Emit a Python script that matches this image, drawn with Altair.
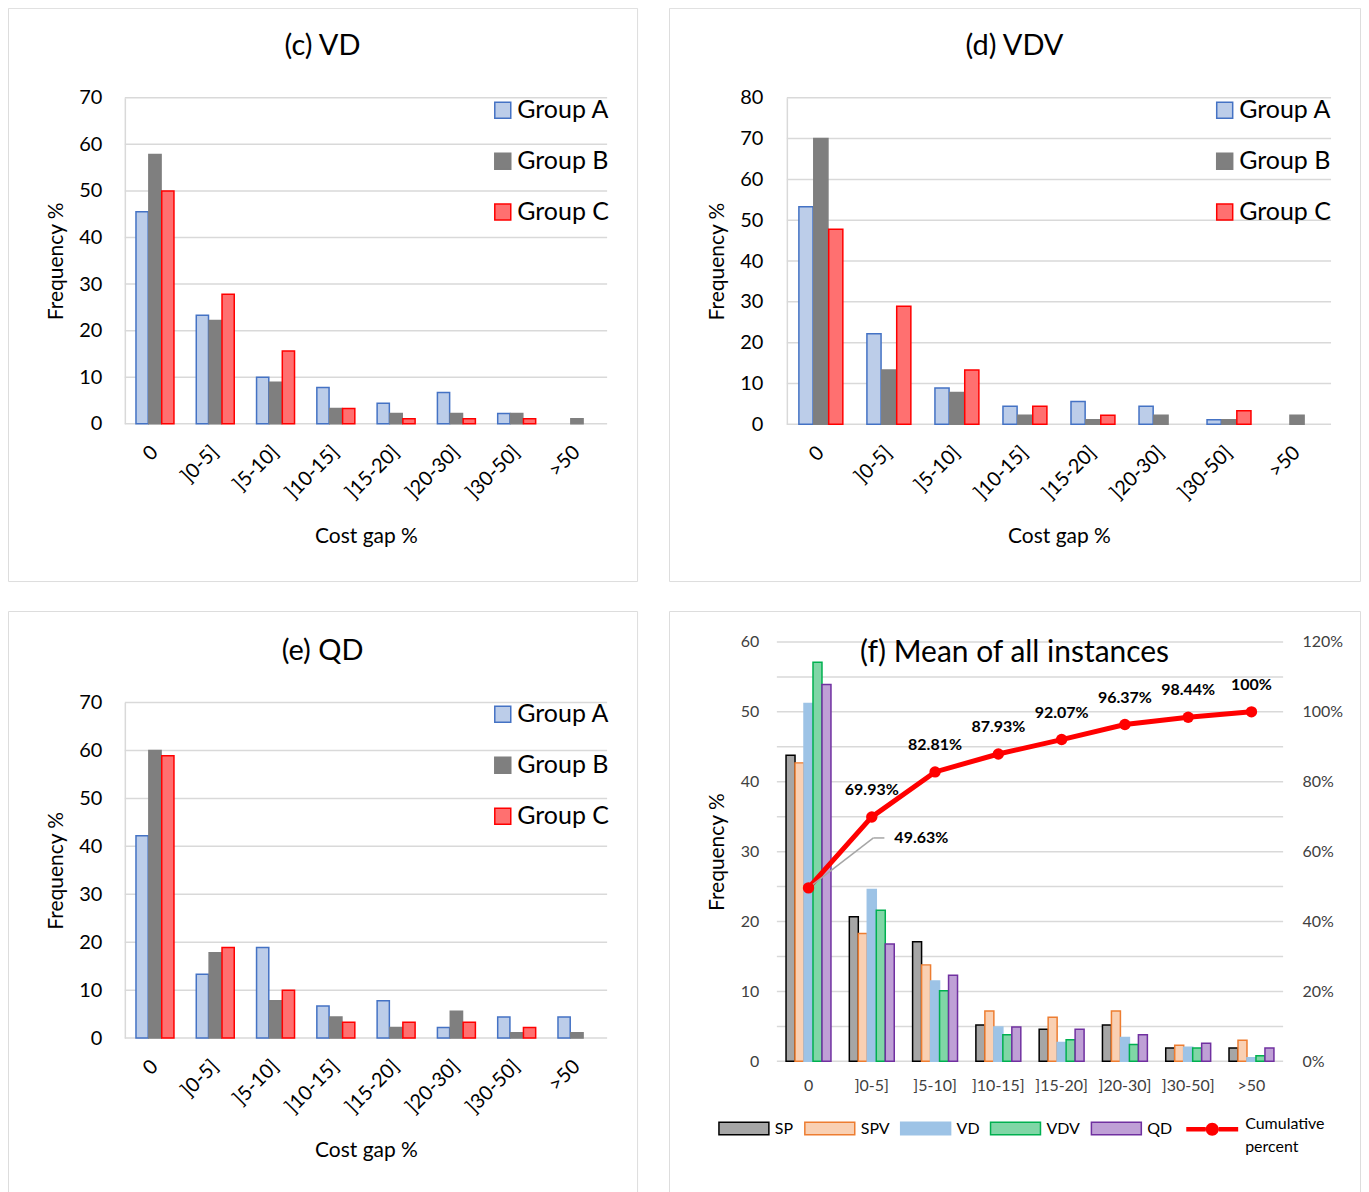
import altair as alt
import pandas as pd

FONT = "Lato"

categories = ["0", "]0-5]", "]5-10]", "]10-15]", "]15-20]", "]20-30]", "]30-50]", ">50"]
groups = ["Group A", "Group B", "Group C"]

# (c) VD
vd_a = [45.5, 23.3, 10.0, 7.8, 4.4, 6.7, 2.2, 0.0]
vd_b = [57.8, 22.2, 8.9, 3.3, 2.2, 2.2, 2.2, 1.1]
vd_c = [50.0, 27.8, 15.6, 3.3, 1.1, 1.1, 1.1, 0.0]
# (d) VDV
vdv_a = [53.3, 22.2, 8.9, 4.4, 5.6, 4.4, 1.1, 0.0]
vdv_b = [70.0, 13.3, 7.8, 2.2, 1.1, 2.2, 1.1, 2.2]
vdv_c = [47.8, 28.9, 13.3, 4.4, 2.2, 0.0, 3.3, 0.0]
# (e) QD
qd_a = [42.2, 13.3, 18.9, 6.7, 7.8, 2.2, 4.4, 4.4]
qd_b = [60.0, 17.8, 7.8, 4.4, 2.2, 5.6, 1.1, 1.1]
qd_c = [58.9, 18.9, 10.0, 3.3, 3.3, 3.3, 2.2, 0.0]
# (f) mean of all instances
methods = ["SP", "SPV", "VD", "VDV", "QD"]
mean_sp = [43.8, 20.7, 17.1, 5.2, 4.6, 5.2, 1.9, 1.9]
mean_spv = [42.7, 18.3, 13.8, 7.2, 6.3, 7.2, 2.3, 3.0]
mean_vd = [51.2, 24.6, 11.5, 4.9, 2.7, 3.4, 2.0, 0.5]
mean_vdv = [57.1, 21.6, 10.1, 3.8, 3.1, 2.4, 1.9, 0.8]
mean_qd = [53.9, 16.8, 12.3, 4.9, 4.6, 3.8, 2.6, 1.9]
cumulative = [49.63, 69.93, 82.81, 87.93, 92.07, 96.37, 98.44, 100.0]

group_fills = ["#bccde9", "#7f7f7f", "#ff7070"]
group_strokes = ["#4472c4", "#7f7f7f", "#ff0000"]
method_fills = ["#a6a6a6", "#f9d0b3", "#9dc3e6", "#80d6a6", "#bfa0d6"]
method_strokes = ["#000000", "#ed7d31", "#9dc3e6", "#00b050", "#7030a0"]

GRID = "#d9d9d9"
TITLE_SIZE = 29


def group_panel(title, a_vals, b_vals, c_vals, ymax, W, H, px0, px1, py_top, py0,
                pad_in, title_off, xtitle_y, ytitle_x, ylab_right, legend_x, legend_y):
    rows = []
    for g, vals in zip(groups, [a_vals, b_vals, c_vals]):
        for cat, v in zip(categories, vals):
            rows.append({"cat": cat, "group": g, "value": v})
    df = pd.DataFrame(rows)
    ticks = pd.DataFrame({"v": list(range(0, ymax + 1, 10))})
    xscale = alt.Scale(domain=categories, range=[px0, px1],
                       paddingInner=pad_in, paddingOuter=pad_in / 2)
    yscale = alt.Scale(domain=[0, ymax], range=[py0, py_top], nice=False, zero=True)
    yaxis = alt.Axis(orient="left", offset=-px0, values=list(range(0, ymax + 1, 10)),
                     grid=False, ticks=False, domain=True, domainColor=GRID,
                     domainWidth=1.5, labelFont=FONT, labelFontSize=20,
                     labelColor="black", labelPadding=px0 - ylab_right,
                     title="Frequency %", titleFont=FONT, titleFontSize=21,
                     titleFontWeight="normal", titleColor="black",
                     titleAngle=270, titleBaseline="middle", titleAlign="center",
                     titleX=ytitle_x - px0, titleY=(py0 + py_top) / 2)

    grid = alt.Chart(ticks).mark_rule(color=GRID, strokeWidth=1.5).encode(
        y=alt.Y("v:Q", scale=yscale, axis=yaxis),
        x=alt.value(px0), x2=alt.value(px1),
    )
    leg = dict(orient="none", legendX=legend_x, legendY=legend_y, title=None,
               direction="vertical", symbolType="square", symbolSize=256,
               symbolStrokeWidth=1.5, labelFont=FONT, labelFontSize=25,
               labelColor="black", labelOffset=2, rowPadding=25, padding=0,
               labelLimit=0)
    bars = alt.Chart(df).transform_filter(alt.datum.value > 0).mark_bar(strokeWidth=1.5).encode(
        x=alt.X("cat:N", sort=categories, scale=xscale,
                axis=alt.Axis(orient="bottom", offset=py0 - H, domain=False,
                              ticks=False, grid=False, labelAngle=315,
                              labelAlign="right", labelBaseline="middle",
                              labelPadding=25, labelFont=FONT, labelFontSize=20,
                              labelColor="black", title="Cost gap %",
                              titleFont=FONT, titleFontSize=21,
                              titleFontWeight="normal", titleColor="black",
                              titleX=(px0 + px1) / 2, titleY=xtitle_y - py0,
                              titleAlign="center", titleBaseline="middle")),
        xOffset=alt.XOffset("group:N", sort=groups,
                            scale=alt.Scale(domain=groups, paddingInner=0.05)),
        y=alt.Y("value:Q", scale=yscale, axis=yaxis),
        fill=alt.Fill("group:N", scale=alt.Scale(domain=groups, range=group_fills),
                      legend=alt.Legend(**leg)),
        stroke=alt.Stroke("group:N", scale=alt.Scale(domain=groups, range=group_strokes),
                          legend=alt.Legend(**leg)),
    )
    return alt.layer(grid, bars).properties(
        width=W, height=H,
        title=alt.TitleParams(title, font=FONT, fontSize=TITLE_SIZE, fontWeight="normal",
                              color="black", anchor="middle", baseline="middle",
                              offset=title_off),
    )


W1, W2 = 630, 692
H1, H2 = 574, 600

panel_c = group_panel("(c) VD", vd_a, vd_b, vd_c, 70, W1, H1, 117, 600, 90, 416.5,
                      0.37, -67, 529, 49, 94, 483, 90)
panel_d = group_panel("(d) VDV", vdv_a, vdv_b, vdv_c, 80, W2, H1, 118, 663, 90, 417,
                      0.354, -67, 529, 49, 94, 544, 90)
panel_e = group_panel("(e) QD", qd_a, qd_b, qd_c, 70, W1, H2, 117, 600, 91.7, 427.7,
                      0.37, -69, 540, 49, 94, 483, 91)

# ---- panel (f)
fx0, fx1, fy_top, fy0 = 108, 615, 31, 451
rows = []
for m, vals in zip(methods, [mean_sp, mean_spv, mean_vd, mean_vdv, mean_qd]):
    for cat, v in zip(categories, vals):
        rows.append({"cat": cat, "method": m, "value": v})
fdf = pd.DataFrame(rows)
cdf = pd.DataFrame({"cat": categories, "cum": cumulative,
                    "label": [("%g" % v) + "%" for v in cumulative]})
fticks = pd.DataFrame({"v": list(range(0, 61, 5))})

fxscale = alt.Scale(domain=categories, range=[fx0, fx1], paddingInner=0.29, paddingOuter=0.145)
fyscale = alt.Scale(domain=[0, 60], range=[fy0, fy_top], nice=False, zero=True)
fy2scale = alt.Scale(domain=[0, 120], range=[fy0, fy_top], nice=False, zero=True)

fxaxis = alt.Axis(orient="bottom", offset=fy0 - H2, domain=False, ticks=False,
                  grid=False, labelAngle=0, labelAlign="center",
                  labelBaseline="middle", labelPadding=24, labelFont=FONT,
                  labelFontSize=16, labelColor="#404040", title=None)
fyaxis = alt.Axis(orient="left", offset=-fx0, values=list(range(0, 61, 10)),
                  grid=False, ticks=False, domain=False, labelFont=FONT,
                  labelFontSize=16, labelColor="#404040", labelPadding=18,
                  title="Frequency %", titleFont=FONT, titleFontSize=21,
                  titleFontWeight="normal", titleColor="black", titleAngle=270,
                  titleBaseline="middle", titleAlign="center",
                  titleX=49 - fx0, titleY=(fy0 + fy_top) / 2)
fy2axis = alt.Axis(orient="right", offset=fx1 - W2, values=list(range(0, 121, 20)),
                   labelExpr="datum.value + '%'", grid=False, ticks=False,
                   domain=False, labelFont=FONT, labelFontSize=16,
                   labelColor="#404040", labelPadding=19, title=None)

fgrid = alt.Chart(fticks).mark_rule(color=GRID, strokeWidth=1.5).encode(
    y=alt.Y("v:Q", scale=fyscale, axis=fyaxis),
    x=alt.value(fx0), x2=alt.value(fx1),
)
mleg = dict(orient="none", legendX=49, legendY=492, title=None, direction="horizontal",
            symbolType="M-1,-0.25H1V0.25H-1Z", symbolSize=2500, symbolStrokeWidth=1.5,
            labelFont=FONT, labelFontSize=16, labelColor="black", labelOffset=5,
            columnPadding=8, padding=0, labelLimit=0)
fbars = alt.Chart(fdf).mark_bar(strokeWidth=1.5).encode(
    x=alt.X("cat:N", sort=categories, scale=fxscale, axis=fxaxis),
    xOffset=alt.XOffset("method:N", sort=methods,
                        scale=alt.Scale(domain=methods, paddingInner=0.0)),
    y=alt.Y("value:Q", scale=fyscale, axis=fyaxis),
    fill=alt.Fill("method:N", scale=alt.Scale(domain=methods, range=method_fills),
                  legend=alt.Legend(**mleg)),
    stroke=alt.Stroke("method:N", scale=alt.Scale(domain=methods, range=method_strokes),
                      legend=alt.Legend(**mleg)),
)
left_layer = alt.layer(fgrid, fbars)

LINE_SYMBOL = ("M-1,-0.09H-0.25V0.09H-1Z M0.25,-0.09H1V0.09H0.25Z "
               "M-0.25,0A0.25,0.25 0 1,0 0.25,0A0.25,0.25 0 1,0 -0.25,0Z")

cx = alt.X("cat:N", sort=categories, scale=fxscale, axis=fxaxis)
cy = alt.Y("cum:Q", scale=fy2scale, axis=fy2axis)
cum_line = alt.Chart(cdf).mark_line(color="#ff0000", strokeWidth=5).encode(x=cx, y=cy)
cum_pts = alt.Chart(cdf).mark_circle(size=130, opacity=1).encode(
    x=cx, y=cy,
    color=alt.Color("series:N", scale=alt.Scale(domain=["Cumulative percent"], range=["#ff0000"]),
                    legend=alt.Legend(orient="none", legendX=517, legendY=492, title=None,
                                      symbolType=LINE_SYMBOL,
                                      symbolSize=2704, labelFont=FONT, labelFontSize=16,
                                      labelColor="black", labelOffset=6, padding=0,
                                      labelLimit=0, labelBaseline="alphabetic",
                                      labelExpr="['Cumulative', 'percent']")),
).transform_calculate(series="'Cumulative percent'")
leader1 = alt.Chart(cdf).transform_filter(alt.datum.cat == "0").mark_rule(
    color="#a6a6a6", strokeWidth=1.5, x2Offset=65, y2Offset=-50).encode(
    x=cx, y=cy, x2=alt.X2("cat:N"), y2=alt.Y2("cum:Q"))
leader2 = alt.Chart(cdf).transform_filter(alt.datum.cat == "0").mark_rule(
    color="#a6a6a6", strokeWidth=1.5, xOffset=65, x2Offset=76, yOffset=-50,
    y2Offset=-50).encode(x=cx, y=cy, x2=alt.X2("cat:N"), y2=alt.Y2("cum:Q"))
labels_main = alt.Chart(cdf).transform_filter(alt.datum.cat != "0").mark_text(
    font=FONT, fontSize=16, fontWeight="bold", color="#000000", dy=-27).encode(
    x=cx, y=cy, text="label:N")
label_first = alt.Chart(cdf).transform_filter(alt.datum.cat == "0").mark_text(
    font=FONT, fontSize=16, fontWeight="bold", color="#000000", dx=113, dy=-50).encode(
    x=cx, y=cy, text="label:N")
right_layer = alt.layer(cum_line, leader1, leader2, cum_pts, labels_main, label_first)

panel_f = alt.layer(left_layer, right_layer).resolve_scale(y="independent").properties(
    width=W2, height=H2,
    title=alt.TitleParams("(f) Mean of all instances", font=FONT, fontSize=30,
                          fontWeight="normal", color="black", anchor="middle",
                          baseline="middle", offset=-72),
)

IND = dict(fill="independent", stroke="independent", color="independent",
           xOffset="independent", x="independent", y="independent")
LIND = dict(fill="independent", stroke="independent", color="independent")

row1 = alt.hconcat(panel_c, panel_d, spacing=30).resolve_scale(**IND).resolve_legend(**LIND)
row2 = alt.hconcat(panel_e, panel_f, spacing=30).resolve_scale(**IND).resolve_legend(**LIND)
chart = alt.vconcat(row1, row2, spacing=28).resolve_scale(**IND).resolve_legend(**LIND) \
    .properties(padding={"top": -2, "left": -1, "right": 0, "bottom": 0}) \
    .configure_view(stroke="#8c8c8c", strokeWidth=1.5) \
    .configure(background="white", style={"guide-label": {"lineHeight": 23}})

chart.save("out.html", embed_options={"renderer": "svg", "actions": False})
